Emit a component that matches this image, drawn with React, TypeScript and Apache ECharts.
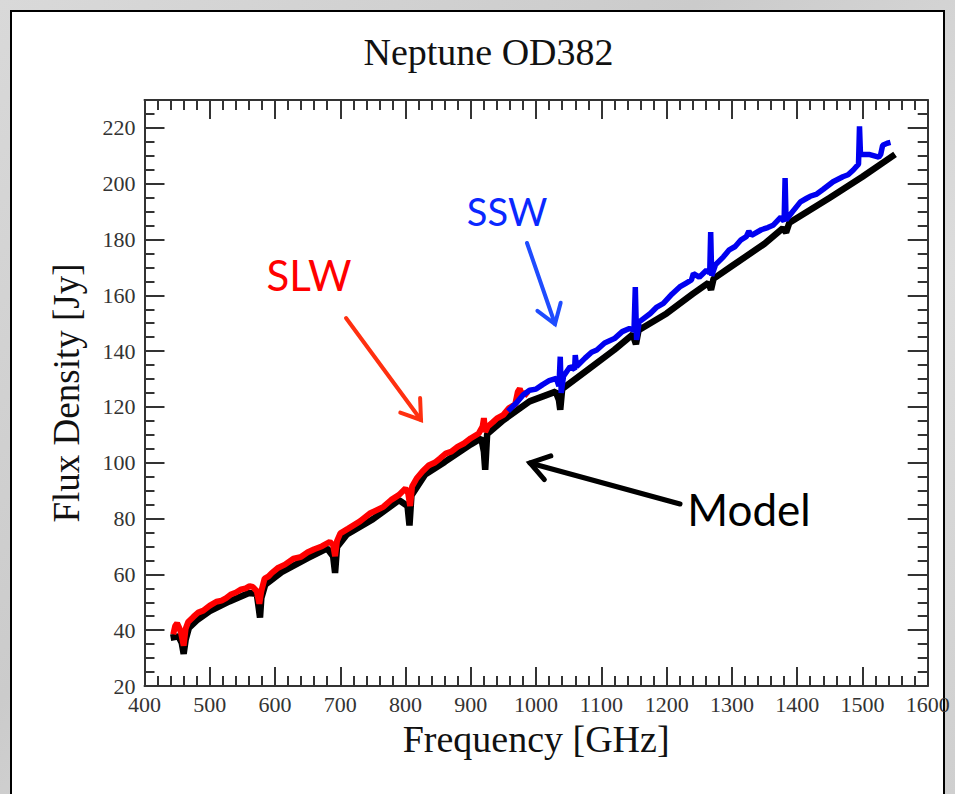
import React, { useEffect, useRef } from "react";
import * as echarts from "echarts";

// ---- Data ----
const modelFreq = [440, 452, 457, 460, 463, 468, 480, 500, 530, 560, 572, 575, 577, 579, 585, 610, 650, 680, 689, 692, 695, 710, 750, 790, 803, 806, 809, 830, 860, 900, 916, 920, 922, 925, 950, 990, 1030, 1035, 1037, 1040, 1080, 1120, 1148, 1153, 1157, 1200, 1240, 1264, 1268, 1272, 1300, 1350, 1378, 1383, 1388, 1450, 1500, 1550];
const modelFlux = [37.3, 37.8, 35.5, 31.5, 36.5, 40.8, 43.5, 46.8, 50.3, 53.3, 53, 48, 44.5, 51.5, 56.3, 60.8, 65.8, 69.3, 66.5, 60.5, 69.8, 74.3, 79.8, 86.6, 84.5, 77.5, 88.3, 95.8, 100.3, 106.6, 108.8, 104, 97.5, 110.3, 115.3, 122, 125.5, 122.5, 119, 126.5, 133.5, 140.5, 146, 142.5, 147.5, 153.5, 160.5, 164.5, 162, 166, 170.5, 178.5, 184, 182.5, 186, 195, 202.5, 210.5];

const slwFreq = [444, 447, 450, 453, 456, 460, 463, 467, 475, 482, 490, 500, 510, 518, 525, 533, 540, 548, 555, 561, 566, 572, 576, 579, 584, 590, 595, 605, 615, 628, 640, 650, 660, 672, 684, 689, 692, 695, 700, 712, 730, 745, 766, 778, 790, 800, 804, 807, 810, 817, 826, 835, 845, 853, 862, 870, 880, 890, 900, 912, 918, 920, 922, 926, 934, 940, 950, 958, 968, 972, 975, 978, 983, 988];
const slwFlux = [38.5, 41.5, 42.5, 41, 39, 34.5, 40.5, 43, 44.8, 46.3, 47, 48.8, 50.2, 50.6, 51.5, 52.9, 53.5, 54.6, 55, 55.8, 55.5, 54, 49.5, 54, 58.5, 59.3, 60.5, 62.4, 63.5, 65.6, 66.3, 67.9, 69, 70.1, 71.7, 70.5, 66.5, 72, 74.7, 76.4, 79, 81.8, 84.2, 86.7, 88.5, 90.8, 89, 84.5, 91.5, 94.4, 96.9, 99, 100.1, 101.6, 103.4, 104, 105.8, 107, 108.8, 110.5, 113, 116, 111, 113, 114.6, 115.9, 117.2, 119.5, 121, 125.5, 126.5, 124.5, 125, 124];

const sswFreq = [957, 970, 980, 990, 1000, 1010, 1020, 1031, 1035, 1037, 1038.5, 1042, 1052, 1059, 1060, 1062, 1075, 1085, 1093, 1105, 1120, 1132, 1143, 1150, 1152, 1154, 1158, 1175, 1185, 1195, 1208, 1220, 1230, 1238, 1241, 1250, 1261, 1266, 1267.5, 1269, 1275, 1287, 1296, 1305, 1314, 1322, 1326, 1330, 1345, 1355, 1363, 1375, 1380, 1381.5, 1383, 1393, 1405, 1414, 1420, 1430, 1440, 1455, 1470, 1478, 1486, 1494, 1495.5, 1497, 1510, 1525, 1528, 1531, 1538, 1543];
const sswFlux = [118.5, 121.5, 124.3, 126, 126.4, 128, 129.4, 130.2, 127.5, 138, 125, 131, 134.4, 133.5, 138.6, 134.5, 137.5, 139.6, 140.4, 142.9, 144.5, 147, 148.1, 147.5, 163, 144, 150.5, 153.5, 155.8, 157.1, 160.4, 163, 164.4, 165.5, 167.8, 166.5, 169, 168, 182.7, 167, 171, 173.8, 176.3, 177.5, 179.9, 181, 183, 181.5, 183.5, 184.3, 185.1, 188, 186.5, 202, 187, 190, 193.5, 194.7, 195.5, 196.3, 198, 200.7, 202.5, 203.2, 204.9, 207, 220.6, 210.5, 210.5, 209.5, 210.5, 213.8, 214.5, 214.8];

const xMin = 400;
const xMax = 1600;
const yMin = 20;
const yMax = 230;

const pairs = (xs: number[], ys: number[]) => xs.map((x, i) => [x, ys[i]]);

const AXIS_COLOR = "#333";
const SERIF = "Liberation Serif";

function arrow(x1: number, y1: number, x2: number, y2: number, color: string, width: number) {
  const ang = Math.atan2(y1 - y2, x1 - x2);
  const len = 22;
  const spread = (34 * Math.PI) / 180;
  const a = [x2 + len * Math.cos(ang + spread), y2 + len * Math.sin(ang + spread)];
  const b = [x2 + len * Math.cos(ang - spread), y2 + len * Math.sin(ang - spread)];
  return [
    {
      type: "line",
      shape: { x1, y1, x2, y2 },
      style: { stroke: color, lineWidth: width, lineCap: "round" },
      z: 100,
    },
    {
      type: "polyline",
      shape: { points: [a, [x2, y2], b] },
      style: { stroke: color, lineWidth: width, lineCap: "round", lineJoin: "miter", fill: null },
      z: 100,
    },
  ];
}

function xAxisDef(position: "top" | "bottom", labels: boolean) {
  return {
    type: "value",
    position,
    min: xMin,
    max: xMax,
    interval: 100,
    axisLine: { show: true, lineStyle: { color: AXIS_COLOR, width: 2 } },
    axisTick: { show: true, inside: true, length: 19, lineStyle: { color: AXIS_COLOR, width: 2 } },
    minorTick: { show: true, splitNumber: 5, length: 10, lineStyle: { color: AXIS_COLOR, width: 2 } },
    splitLine: { show: false },
    minorSplitLine: { show: false },
    axisLabel: labels
      ? { show: true, margin: 7, fontFamily: SERIF, fontSize: 22, color: "#333", formatter: (v: number) => String(v) }
      : { show: false },
    ...(labels
      ? {
          name: "Frequency [GHz]",
          nameLocation: "middle",
          nameGap: 34,
          nameTextStyle: { fontFamily: SERIF, fontSize: 38, color: "#111" },
        }
      : {}),
  };
}

function yAxisDef(position: "left" | "right", major: boolean, labels: boolean) {
  return {
    type: "value",
    position,
    min: yMin,
    max: yMax,
    interval: major ? 20 : 5,
    axisLine: { show: major, lineStyle: { color: AXIS_COLOR, width: 2 } },
    axisTick: { show: true, inside: true, length: major ? 20 : 10, lineStyle: { color: AXIS_COLOR, width: 2 } },
    splitLine: { show: false },
    axisLabel: labels
      ? {
          show: true,
          margin: 9,
          fontFamily: SERIF,
          fontSize: 22,
          color: "#333",
          formatter: (v: number) => (v === yMax ? "" : String(v)),
        }
      : { show: false },
    ...(labels
      ? {
          name: "Flux Density [Jy]",
          nameLocation: "middle",
          nameGap: 60,
          nameRotate: 90,
          nameTextStyle: { fontFamily: SERIF, fontSize: 37, color: "#111" },
        }
      : {}),
  };
}

export default function App() {
  const ref = useRef<HTMLDivElement>(null);

  useEffect(() => {
    if (!ref.current) return;
    const chart = echarts.init(ref.current, null, { renderer: "svg" });
    const option: any = {
      animation: false,
      backgroundColor: "transparent",
      grid: { left: 144.5, right: 27.3, top: 100, bottom: 108, containLabel: false },
      xAxis: [xAxisDef("bottom", true), xAxisDef("top", false)],
      yAxis: [
        yAxisDef("left", true, true),
        yAxisDef("left", false, false),
        yAxisDef("right", true, false),
        yAxisDef("right", false, false),
      ],
      series: [
        {
          name: "Model",
          type: "line",
          data: pairs(modelFreq, modelFlux),
          xAxisIndex: 0,
          yAxisIndex: 0,
          showSymbol: false,
          symbol: "none",
          lineStyle: { color: "#000", width: 6.5 },
          z: 2,
        },
        {
          name: "SLW",
          type: "line",
          data: pairs(slwFreq, slwFlux),
          xAxisIndex: 0,
          yAxisIndex: 0,
          showSymbol: false,
          symbol: "none",
          lineStyle: { color: "#ff0000", width: 6 },
          z: 3,
        },
        {
          name: "SSW",
          type: "line",
          data: pairs(sswFreq, sswFlux),
          xAxisIndex: 0,
          yAxisIndex: 0,
          showSymbol: false,
          symbol: "none",
          lineStyle: { color: "#0000f0", width: 5.5 },
          z: 4,
        },
      ],
      graphic: [
        {
          type: "text",
          x: 488.5,
          y: 51.5,
          style: {
            text: "Neptune OD382",
            fontFamily: SERIF,
            fontSize: 38,
            fill: "#111",
            align: "center",
            verticalAlign: "middle",
          },
        },
        {
          type: "text",
          x: 309,
          y: 275,
          style: { text: "SLW", fontFamily: "Lato", fontSize: 42, fill: "#ff0000", align: "center", verticalAlign: "middle" },
          z: 100,
        },
        {
          type: "text",
          x: 507,
          y: 211,
          style: { text: "SSW", fontFamily: "Lato", fontSize: 38, fill: "#0a28ff", align: "center", verticalAlign: "middle" },
          z: 100,
        },
        {
          type: "text",
          x: 749,
          y: 509,
          style: { text: "Model", fontFamily: "Lato", fontSize: 44, fill: "#000", align: "center", verticalAlign: "middle" },
          z: 100,
        },
        ...arrow(346, 318, 421, 420, "#ff3010", 4),
        ...arrow(527, 243, 555, 324, "#1f4cff", 4),
        ...arrow(680, 504, 530, 463, "#000", 5),
      ],
    };
    chart.setOption(option);
    return () => chart.dispose();
  }, []);

  return (
    <div
      style={{
        position: "fixed",
        left: 0,
        top: 0,
        width: 955,
        height: 794,
        overflow: "hidden",
        background: "linear-gradient(135deg, #d9d9d9 0%, #cbcbcb 40%, #dcdcdc 70%, #cfcfcf 100%)",
      }}
    >
      <div
        style={{
          position: "absolute",
          left: 10,
          top: 10,
          width: 935,
          height: 810,
          background: "#ffffff",
          border: "2px solid #000",
          boxSizing: "border-box",
        }}
      />
      <div ref={ref} style={{ position: "absolute", left: 0, top: 0, width: 955, height: 794 }} />
    </div>
  );
}
